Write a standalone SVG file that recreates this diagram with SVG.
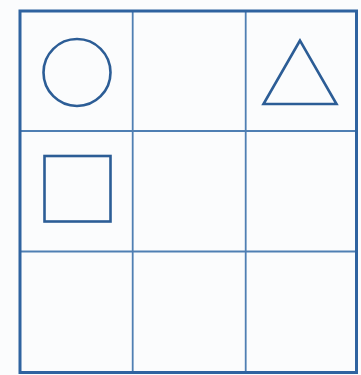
<svg xmlns="http://www.w3.org/2000/svg" width="361" height="375" viewBox="0 0 361 375">
<style>
.outer{fill:none;stroke:#2f63a0;stroke-width:3}
.grid{fill:none;stroke:#4f7fb3;stroke-width:1.8}
.shape{fill:none;stroke:#2c5d96;stroke-width:2.6}
</style>
<rect x="0" y="0" width="361" height="375" fill="#fbfcfd"/>
<g id="grid">
<line class="grid" x1="132.7" y1="11" x2="132.7" y2="372.5"/>
<line class="grid" x1="245.7" y1="11" x2="245.7" y2="372.5"/>
<line class="grid" x1="20" y1="131" x2="356.5" y2="131"/>
<line class="grid" x1="20" y1="251.5" x2="356.5" y2="251.5"/>
<rect class="outer" x="20" y="11" width="336.5" height="361.5"/>
</g>
<g id="circle"><circle class="shape" cx="77" cy="72.5" r="33.5"/></g>
<g id="triangle"><polygon class="shape" points="300,40.5 263.5,104 336.5,104"/></g>
<g id="square"><rect class="shape" x="44.5" y="156" width="66" height="65.5"/></g>
</svg>
